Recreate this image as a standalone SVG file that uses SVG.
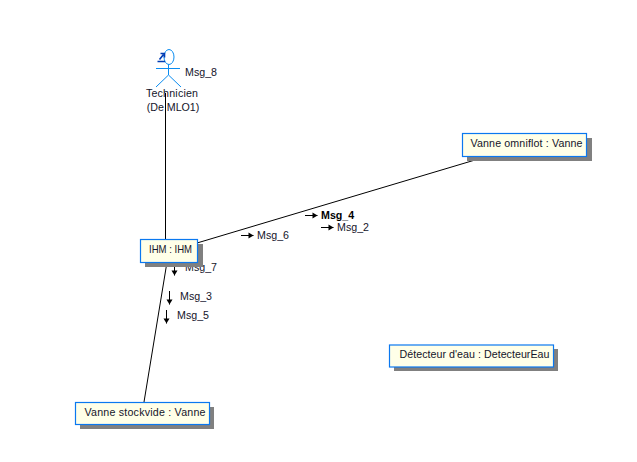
<svg xmlns="http://www.w3.org/2000/svg" width="637" height="462" viewBox="0 0 637 462">
<defs>
<style>
text{font-family:"Liberation Sans",Arial,sans-serif;font-size:10.67px;fill:#14142a}
.c{text-anchor:middle}
.box{fill:#ffffe8;stroke:#0a78f0;stroke-width:1.2}
.sh{fill:#808080}
.ln{stroke:#000;stroke-width:1;fill:none}
.act{stroke:#0a8cf0;stroke-width:1;fill:none}
</style>
<marker id="ah" viewBox="0 0 7 7" refX="6" refY="3.500" markerWidth="7" markerHeight="7" markerUnits="userSpaceOnUse" orient="auto"><path d="M1 0.500L6 3.500L1 6.500Z" fill="#000"/></marker>
</defs>
<rect width="637" height="462" fill="#fff"/>
<g id="connectors">
<path class="ln" d="M165.500 93V239"/>
<path class="ln" d="M197 243L475 160"/>
<path class="ln" d="M167 262L144 402"/>
</g>
<g id="messages">
<path class="ln" marker-end="url(#ah)" d="M305 215.500H317.500"/>
<text x="321" y="219" style="font-weight:bold;fill:#000">Msg_4</text>
<path class="ln" marker-end="url(#ah)" d="M321 227.500H333.500"/>
<text x="337" y="231">Msg_2</text>
<path class="ln" marker-end="url(#ah)" d="M241 235.500H253.500"/>
<text x="257" y="239">Msg_6</text>
<path class="ln" marker-end="url(#ah)" d="M174.500 262V275.500"/>
<text x="185" y="271">Msg_7</text>
<path class="ln" marker-end="url(#ah)" d="M169.500 291V304.500"/>
<text x="180" y="300">Msg_3</text>
<path class="ln" marker-end="url(#ah)" d="M166.500 310V323.500"/>
<text x="177" y="319">Msg_5</text>
<text x="185" y="76">Msg_8</text>
</g>
<g id="technicien">
<ellipse class="act" cx="169" cy="57" rx="5" ry="7.500"/>
<path class="act" d="M168.500 64.500V75M156 68.500H180M168.500 75L156 87M168.500 75L181 87"/>
<path d="M157.500 61.500H165M159.500 59.500L163.500 54.500M160.500 53.500H164.500V57.500" stroke="#003cb4" stroke-width="1.600" fill="none"/>
<text x="146" y="97" textLength="52" lengthAdjust="spacing">Technicien</text>
<text class="c" x="173" y="111">(De MLO1)</text>
</g>
<g id="ihm">
<rect class="sh" x="145" y="244" width="58" height="23"/>
<rect class="box" x="140.500" y="239.500" width="57" height="23"/>
<text x="149" y="253" textLength="43" lengthAdjust="spacingAndGlyphs">IHM : IHM</text>
</g>
<g id="vanne-omniflot">
<rect class="sh" x="467" y="138" width="125" height="23"/>
<rect class="box" x="462.500" y="133.500" width="124" height="23"/>
<text x="470.500" y="147" textLength="112" lengthAdjust="spacing">Vanne omniflot : Vanne</text>
</g>
<g id="vanne-stockvide">
<rect class="sh" x="80" y="407" width="134" height="22"/>
<rect class="box" x="75.500" y="402.500" width="134" height="22"/>
<text x="84.500" y="416" textLength="121" lengthAdjust="spacing">Vanne stockvide : Vanne</text>
</g>
<g id="detecteur">
<rect class="sh" x="394" y="349" width="164" height="22"/>
<rect class="box" x="389.500" y="345" width="164" height="22"/>
<text x="399.500" y="358" textLength="150" lengthAdjust="spacing">Détecteur d'eau : DetecteurEau</text>
</g>
</svg>
